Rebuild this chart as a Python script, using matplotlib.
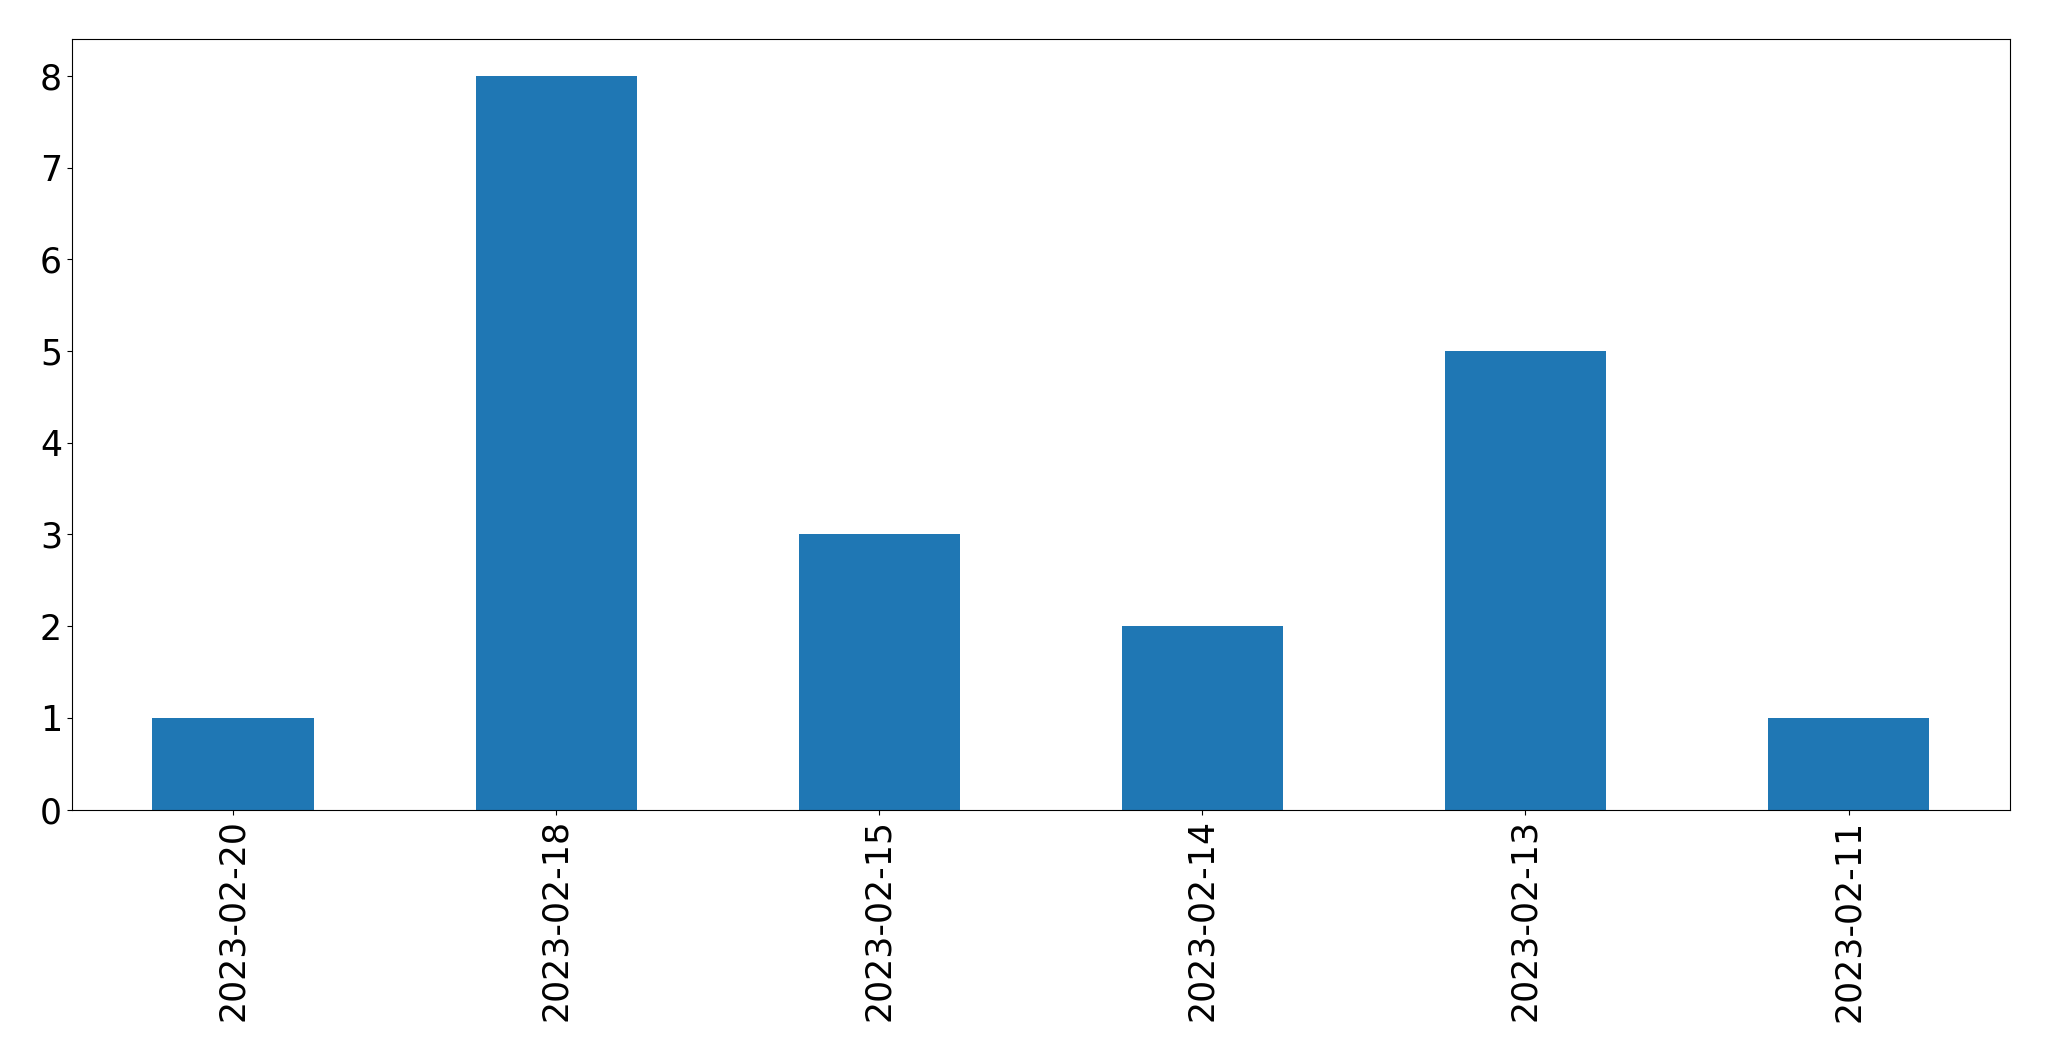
import matplotlib
matplotlib.use("Agg")
import matplotlib.pyplot as plt
import pandas as pd

dates = ["2023-02-20", "2023-02-18", "2023-02-15", "2023-02-14", "2023-02-13", "2023-02-11"]
counts = [1, 8, 3, 2, 5, 1]

series = pd.Series(counts, index=dates)

fig, ax = plt.subplots(figsize=(20.49, 10.61), dpi=100)
series.plot(kind="bar", ax=ax, color="#1f77b4", width=0.5)
ax.tick_params(axis="both", labelsize=25)
fig.subplots_adjust(left=0.035, right=0.981, top=0.963, bottom=0.237)
fig.savefig("out.png", dpi=100)
